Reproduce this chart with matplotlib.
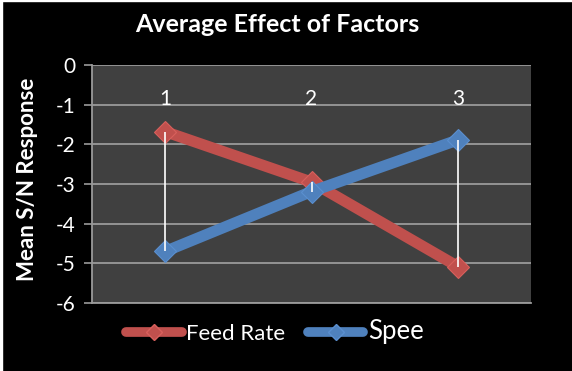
import matplotlib
matplotlib.use("Agg")
import matplotlib.pyplot as plt
from matplotlib.lines import Line2D
from matplotlib.patches import Rectangle

# data
levels = [1, 2, 3]
level_labels = ["1", "2", "3"]
feed_rate = [-1.68, -2.95, -5.08]
speed = [-4.70, -3.19, -1.89]
series_names = ["Feed Rate", "Spee"]
yticks = [0, -1, -2, -3, -4, -5, -6]

plt.rcParams['font.family'] = ['Lato', 'DejaVu Sans']

fig = plt.figure(figsize=(5.72, 3.71), dpi=100, facecolor="black")
# thin white edge strips as in the reference
fig.patches.append(Rectangle((0, 0), 2/572, 1, transform=fig.transFigure,
                             color="white", zorder=0))
fig.patches.append(Rectangle((0, 1 - 1/371), 1, 1/371, transform=fig.transFigure,
                             color="white", zorder=0))

ax = fig.add_axes([92/572, 1 - 303/371, 439/572, 238/371])
ax.set_facecolor("#404040")

red = "#c0504d"
blue = "#4f81bd"

ax.plot(levels, feed_rate, color=red, lw=8, marker="D", ms=11,
        mfc=red, mec="#d8605c", mew=0.8, zorder=3, solid_capstyle="round")
ax.plot(levels, speed, color=blue, lw=8, marker="D", ms=11,
        mfc=blue, mec="#5a8fcf", mew=0.8, zorder=3, solid_capstyle="round")

# high-low lines
lows = [min(a, b) for a, b in zip(feed_rate, speed)]
highs = [max(a, b) for a, b in zip(feed_rate, speed)]
ax.vlines(levels, lows, highs, colors="white", lw=1.2, zorder=5)

ax.set_xlim(0.5, 3.5)
ax.set_ylim(-6, 0)
ax.set_yticks(yticks)
ax.set_yticklabels([str(v) for v in yticks], color="white", fontsize=15)
ax.yaxis.grid(True, color="#9a9a9a", lw=1.3)
ax.set_axisbelow(True)
ax.set_xticks([])
ax.tick_params(axis="y", length=6, width=1.2, color="#9a9a9a", pad=6)

for s in ["top", "right"]:
    ax.spines[s].set_visible(False)
for s in ["left", "bottom"]:
    ax.spines[s].set_color("#9a9a9a")
    ax.spines[s].set_linewidth(1.3)

for x, lab in zip(levels, level_labels):
    ax.text(x, -0.85, lab, color="white", fontsize=15, ha="center", va="center")

fig.text(28/572, 1 - 179/371, "Mean S/N Response", color="white", fontsize=16,
         fontweight="bold", rotation=90, ha="center", va="center")

fig.text(277/572, 1 - 24/371, "Average Effect of Factors", color="white",
         fontsize=18, fontweight="bold", ha="center", va="center")

handles = [
    Line2D([], [], color=red, lw=7, marker="D", ms=8, mfc=red, mec="#d8605c",
           solid_capstyle="round"),
    Line2D([], [], color=blue, lw=7, marker="D", ms=8, mfc=blue, mec="#5a8fcf",
           solid_capstyle="round"),
]
leg = fig.legend(handles, series_names, loc="center",
                 bbox_to_anchor=(275/572, 1 - 332/371),
                 ncol=2, frameon=False, fontsize=16, handlelength=2.5,
                 columnspacing=1.0, handletextpad=0.2)
texts = leg.get_texts()
for t in texts:
    t.set_color("white")
texts[1].set_fontsize(18.5)

fig.savefig("out.png", dpi=100, facecolor="black")
